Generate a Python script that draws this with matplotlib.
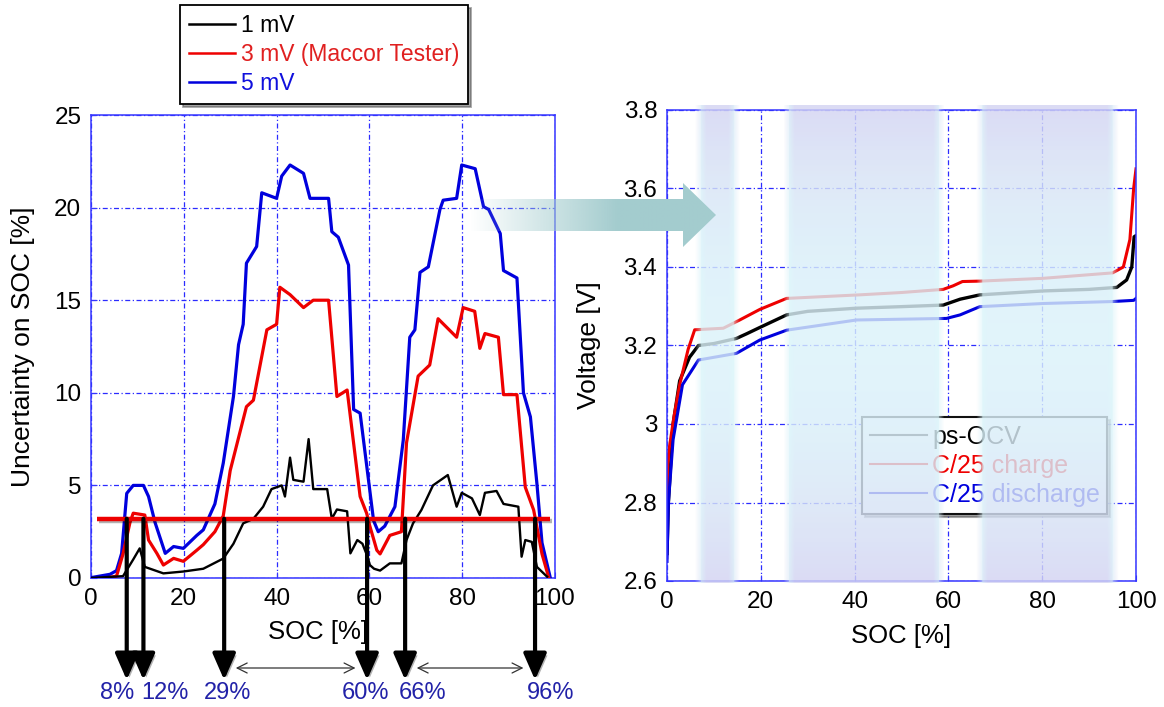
import numpy as np
import matplotlib
matplotlib.use('Agg')
import matplotlib.pyplot as plt
from matplotlib.lines import Line2D
from matplotlib.patches import Polygon
import matplotlib.patheffects as pe

plt.rcParams['font.family'] = ['Liberation Sans', 'DejaVu Sans']

# ---------------- data: left chart (uncertainty on SOC) ----------------
soc_5mv = [0, 4.1, 5.5, 6.6, 7.7, 9.1, 11.3, 12.4, 13.8, 16, 17.8, 19.9, 22.8, 24.2, 26.7, 28.5,
           30.7, 31.8, 32.8, 33.5, 35.7, 36.8, 40, 41.1, 42.9, 45.8, 47.2, 51.2, 51.9, 53.3, 55.5,
           56.6, 58, 60.9, 61.9, 63.3, 65.5, 67.3, 68.7, 69.8, 70.9, 72.7, 75.2, 75.9, 78.8, 79.9,
           82.8, 84.6, 85.7, 88.2, 88.9, 91.8, 93.2, 94.7, 96.1, 97.2, 99]
unc_5mv = [0.02, 0.2, 0.4, 1.33, 4.57, 5.0, 5.0, 4.4, 3.0, 1.33, 1.7, 1.6, 2.3, 2.6, 4.0, 6.2,
           9.8, 12.6, 13.7, 17.0, 17.9, 20.8, 20.5, 21.7, 22.3, 21.85, 20.5, 20.5, 18.7, 18.4, 16.9,
           9.1, 8.9, 3.1, 2.5, 2.8, 3.85, 7.45, 13.0, 13.4, 16.5, 16.8, 19.9, 20.4, 20.5, 22.3,
           22.1, 20.05, 19.9, 18.6, 16.6, 16.2, 10.0, 8.7, 5.1, 1.9, 0.0]

soc_3mv = [3.4, 5.5, 6.9, 8.4, 9.1, 11.6, 12.4, 14.2, 15.6, 17.8, 19.9, 22.8, 24.2, 26.7, 28.5,
           30, 33.5, 35, 37.9, 40, 40.7, 42.9, 45.8, 47.9, 51.2, 53, 55.2, 58, 59.4, 60.1, 61.6,
           62.3, 64.4, 66.9, 68, 70.5, 73, 74.8, 78.8, 80.2, 82.7, 83.8, 84.9, 87.8, 88.9, 91.8,
           93.6, 95.4, 97.2, 98.6]
unc_3mv = [0.0, 0.1, 1.3, 3.0, 3.5, 3.4, 2.05, 1.33, 0.7, 1.06, 0.9, 1.5, 1.8, 2.5, 3.35,
           5.8, 9.25, 9.6, 13.4, 13.7, 15.7, 15.3, 14.6, 15.0, 15.0, 9.8, 10.15, 4.4, 3.5, 2.8, 1.5,
           1.3, 2.3, 2.5, 7.3, 10.9, 11.5, 14.0, 13.0, 14.6, 14.4, 12.4, 13.2, 13.0, 9.9, 9.9,
           4.9, 3.67, 1.3, 0.07]

soc_1mv = [0, 6.9, 9.1, 10.5, 11.6, 15.6, 19.9, 24.2, 28.5, 30.7, 32.8, 35, 37.1, 38.9, 41.1,
           41.8, 42.9, 43.6, 45.8, 46.9, 47.9, 50.9, 51.9, 53, 55.2, 55.9, 57.4, 58.5, 59.6, 60.1,
           61, 62.3, 64.4, 66.9, 68, 69.4, 71.2, 73.7, 76.9, 78.8, 79.9, 82.1, 83.8, 84.9, 87.4,
           88.9, 92.1, 92.8, 93.6, 95, 96.1, 98.3]
unc_1mv = [0, 0.1, 1.0, 1.6, 0.6, 0.25, 0.35, 0.5, 1.05, 1.85, 2.95, 3.2, 3.85, 4.8, 5.0,
           4.4, 6.5, 5.3, 5.2, 7.5, 4.8, 4.8, 3.2, 3.7, 3.6, 1.33, 2.05, 1.85, 1.15, 0.7,
           0.5, 0.4, 0.79, 0.79, 2.05, 2.95, 3.67, 5.0, 5.56, 3.85, 4.6, 4.3, 3.4, 4.6, 4.7,
           4.0, 3.85, 1.15, 2.05, 1.95, 0.6, 0.07]

series_labels = ['1 mV', '3 mV (Maccor Tester)', '5 mV']
threshold = 3.2                          # red threshold line [%]
threshold_span = [1.3, 99]
crossing_soc = [7.7, 11.3, 28.7, 59.5, 67.7, 95.7]   # where arrows drop
crossing_labels = ['8%', '12%', '29%', '60%', '66%', '96%']

# ---------------- data: right chart (voltage) ----------------
soc_ocv = [0, 0.3, 1.3, 2.7, 4.8, 6.7, 10, 14.8, 17, 19.8, 25.5, 30, 40.4, 50, 58.9, 62.5,
           66.7, 80.2, 90, 95.9, 98, 99.1, 99.6, 100]
v_ocv = [2.67, 2.80, 3.00, 3.11, 3.17, 3.20, 3.205, 3.218, 3.23, 3.246, 3.278, 3.287, 3.295,
         3.299, 3.303, 3.318, 3.329, 3.339, 3.343, 3.348, 3.367, 3.40, 3.477, 3.48]
soc_chg = [0, 0.2, 0.5, 1.5, 2.7, 4.5, 5.9, 12, 15.5, 19.8, 25.5, 41, 50, 58.9, 61, 63, 66.7,
           80, 95, 97.3, 98.7, 99.5, 100]
v_chg = [2.76, 2.90, 2.94, 3.02, 3.10, 3.19, 3.24, 3.244, 3.265, 3.292, 3.32, 3.329, 3.335,
         3.343, 3.352, 3.363, 3.364, 3.371, 3.385, 3.40, 3.47, 3.60, 3.65]
soc_dis = [0, 0.3, 1.3, 3.3, 6.7, 14.8, 19.8, 25.5, 40.4, 59.6, 62.5, 66.7, 80.2, 95, 99.5, 100]
v_dis = [2.65, 2.80, 2.96, 3.10, 3.163, 3.18, 3.214, 3.239, 3.265, 3.269, 3.278, 3.299, 3.307,
         3.312, 3.315, 3.32]
volt_labels = ['ps-OCV', 'C/25 charge', 'C/25 discharge']
bands_soc = [(7.2, 14.3), (26.0, 58.0), (67.0, 95.0)]

# ---------------- figure ----------------
W, H = 1164, 707
fig = plt.figure(figsize=(W / 100, H / 100), dpi=100)
fig.patch.set_facecolor('white')

BLUE = '#0000dd'
RED = '#ee0000'
SPINE = '#3535ff'
GRIDC = '#2b2bff'
GRIDLS = (0, (4, 2, 1, 2))


def px_rect(x0, y0, x1, y1):
    return [x0 / W, 1 - y1 / H, (x1 - x0) / W, (y1 - y0) / H]


def style_axes(ax):
    for s in ax.spines.values():
        s.set_color(SPINE)
        s.set_linewidth(1.1)
    ax.grid(True, color=GRIDC, linestyle=GRIDLS, linewidth=0.9)
    ax.set_axisbelow(True)
    ax.tick_params(direction='in', length=4, color=SPINE, labelsize=17.5, pad=7)


# ---------- left ----------
axL = fig.add_axes(px_rect(91, 115, 555, 578))
style_axes(axL)
axL.plot(soc_5mv, unc_5mv, color=BLUE, lw=2.3, zorder=3)
axL.plot(soc_3mv, unc_3mv, color=RED, lw=2.3, zorder=3)
axL.plot(soc_1mv, unc_1mv, color='black', lw=1.7, zorder=3)
axL.set_xlim(0, 100)
axL.set_ylim(0, 25)
axL.set_xticks(np.arange(0, 101, 20))
axL.set_yticks(np.arange(0, 26, 5))
axL.set_xlabel('SOC [%]', fontsize=18.5)
axL.xaxis.set_label_coords(0.49, (578 - 620) / 463)
axL.set_ylabel('Uncertainty on SOC [%]', fontsize=19)
axL.yaxis.set_label_coords((35 - 91) / 464, 0.5)

axL.plot(threshold_span, [threshold, threshold], color=RED, lw=3.2, zorder=5,
         solid_capstyle='butt',
         path_effects=[pe.SimpleLineShadow(offset=(1.5, -1.5), alpha=0.3), pe.Normal()])

shadow = [pe.withSimplePatchShadow(offset=(2, -2), alpha=0.3)]
for x in crossing_soc:
    axL.annotate('', xy=(x, 27), xycoords=('data', 'figure pixels'),
                 xytext=(x, threshold), textcoords='data', annotation_clip=False,
                 arrowprops=dict(arrowstyle='-|>,head_length=0.8,head_width=0.35',
                                 mutation_scale=20, lw=3.0, color='black',
                                 shrinkA=0, shrinkB=0, path_effects=shadow),
                 zorder=6)

# double-headed range arrows between crossings
for a, b in [(crossing_soc[2], crossing_soc[3]), (crossing_soc[4], crossing_soc[5])]:
    axL.annotate('', xy=(b - 2.5, 39), xycoords=('data', 'figure pixels'),
                 xytext=(a + 2.5, 39), textcoords=('data', 'figure pixels'),
                 annotation_clip=False,
                 arrowprops=dict(arrowstyle='<->,head_length=0.6,head_width=0.3',
                                 mutation_scale=12, lw=0.9, color='#333333',
                                 shrinkA=0, shrinkB=0))

label_offsets = [-2.1, 4.6, 0.8, -0.4, 3.8, 3.3]
for x, off, t in zip(crossing_soc, label_offsets, crossing_labels):
    axL.annotate(t, xy=(x + off, 14), xycoords=('data', 'figure pixels'),
                 ha='center', va='center', fontsize=17, color='#2222a8',
                 annotation_clip=False)

handlesL = [Line2D([], [], color='black', lw=1.8),
            Line2D([], [], color=RED, lw=1.8),
            Line2D([], [], color=BLUE, lw=1.8)]
legL = axL.legend(handlesL, series_labels, loc='upper left',
                  bbox_to_anchor=(180 / W, 1 - 5 / H), bbox_transform=fig.transFigure,
                  fontsize=16.5, labelcolor=['black', '#e02020', '#1010dd'],
                  frameon=True, fancybox=False, shadow=True, framealpha=1,
                  edgecolor='black', borderpad=0.4, labelspacing=0.25,
                  handlelength=2.0, handletextpad=0.25, borderaxespad=0)
legL.get_frame().set_linewidth(1.3)

# ---------- right ----------
axR = fig.add_axes(px_rect(667, 110, 1136, 581))
style_axes(axR)
axR.plot(soc_ocv, v_ocv, color='black', lw=2.4, zorder=2)
axR.plot(soc_chg, v_chg, color=RED, lw=2.2, zorder=2)
axR.plot(soc_dis, v_dis, color=BLUE, lw=2.2, zorder=2)

handlesR = [Line2D([], [], color='#1a1a1a', lw=1.5),
            Line2D([], [], color=RED, lw=1.5),
            Line2D([], [], color=BLUE, lw=1.5)]
legR = axR.legend(handlesR, volt_labels, loc='upper left',
                  bbox_to_anchor=(862 / W, 1 - 417 / H), bbox_transform=fig.transFigure,
                  fontsize=18, labelcolor=['black', RED, BLUE],
                  frameon=True, fancybox=False, shadow=True, framealpha=1,
                  edgecolor='#111111', borderpad=0.3, labelspacing=0.2,
                  handlelength=2.3, handletextpad=0.2, borderaxespad=0)
legR.get_frame().set_linewidth(1.5)
legR.set_zorder(3)

# translucent highlight bands (drawn over curves and legend)
ytop_v = 3.8 + (110 - 105) / 78.5 * 0.2
ybot_v = 2.6 - (583 - 581) / 78.5 * 0.2
for (x0, x1) in bands_soc:
    glow = 1.2
    nx, ny = 160, 220
    xs = np.linspace(x0 - glow, x1 + glow, nx)
    ys = np.linspace(0, 1, ny)
    t = (np.abs(ys - 0.5) * 2) ** 2.0
    top = np.array([0.83, 0.83, 0.95])
    mid = np.array([0.86, 0.95, 0.98])
    col = mid[None, :] * (1 - t[:, None]) + top[None, :] * t[:, None]
    d = np.maximum(x0 - xs, xs - x1)
    alpha = np.where(d <= 0, 0.82, 0.55 * np.clip(1 - d / glow, 0, 1))
    img = np.zeros((ny, nx, 4))
    img[..., :3] = col[:, None, :]
    edge = np.clip(1 - np.abs(d) / glow, 0, 1)[None, :, None]
    img[..., :3] = img[..., :3] * (1 - 0.6 * edge) + np.array([0.85, 0.97, 0.98]) * 0.6 * edge
    img[..., 3] = alpha[None, :]
    axR.imshow(img, extent=(x0 - glow, x1 + glow, ybot_v, ytop_v), aspect='auto',
               origin='upper', zorder=6, clip_on=False, interpolation='bilinear')

axR.set_xlim(0, 100)
axR.set_ylim(2.6, 3.8)
axR.set_xticks(np.arange(0, 101, 20))
axR.set_yticks([2.6, 2.8, 3.0, 3.2, 3.4, 3.6, 3.8])
axR.set_yticklabels(['2.6', '2.8', '3', '3.2', '3.4', '3.6', '3.8'])
axR.set_xlabel('SOC [%]', fontsize=18.5)
axR.xaxis.set_label_coords(0.50, (581 - 624) / 471)
axR.set_ylabel('Voltage [V]', fontsize=19)
axR.yaxis.set_label_coords((601 - 667) / 469, 0.5)

# ---------- big gradient arrow between charts ----------
axA = fig.add_axes([0, 0, 1, 1], facecolor='none', zorder=10)
axA.set_xlim(0, W)
axA.set_ylim(H, 0)
axA.axis('off')
poly = Polygon([(470, 199), (683, 199), (683, 183), (716, 215), (683, 247), (683, 231), (470, 231)],
               closed=True, transform=axA.transData, facecolor='none', edgecolor='none')
axA.add_patch(poly)
gx = np.linspace(0, 1, 300)
grad = np.zeros((2, 300, 4))
grad[..., 0] = 0.64
grad[..., 1] = 0.80
grad[..., 2] = 0.81
grad[..., 3] = np.clip((gx - 0.0) / 0.6, 0, 1)[None, :]
im = axA.imshow(grad, extent=(470, 716, 247, 183), aspect='auto', origin='upper',
                interpolation='bilinear')
im.set_clip_path(poly)
axA.set_xlim(0, W)
axA.set_ylim(H, 0)

fig.savefig('out.png', dpi=100)
